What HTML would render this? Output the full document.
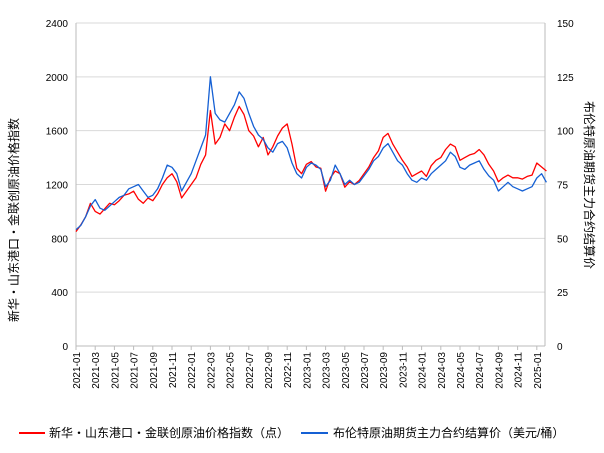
<!DOCTYPE html>
<html><head><meta charset="utf-8"><style>
body{margin:0;background:#fff;}
svg{display:block;font-family:"Liberation Sans","Noto Sans CJK SC",sans-serif;}
</style></head><body>
<svg id="c" width="604" height="453">
<g id="grid"></g>
<g id="yl"></g>
<g id="yr"></g>
<g id="xa"></g>
<g id="series"></g>
<text x="18" y="220" font-size="12" text-anchor="middle" transform="rotate(-90 18 220)">新华・山东港口・金联创原油价格指数</text>
<text x="585" y="185" font-size="12" text-anchor="middle" transform="rotate(90 585 185)">布伦特原油期货主力合约结算价</text>
<g>
<line x1="19" y1="433" x2="45" y2="433" stroke="#ff0000" stroke-width="2"/>
<text x="49" y="437" font-size="12">新华・山东港口・金联创原油价格指数（点）</text>
<line x1="301" y1="433" x2="328" y2="433" stroke="#1560d4" stroke-width="2"/>
<text x="333" y="437" font-size="12">布伦特原油期货主力合约结算价（美元/桶）</text>
</g>
</svg>
<script>
const xTickLabels=["2021-01","2021-03","2021-05","2021-07","2021-09","2021-11","2022-01","2022-03","2022-05","2022-07","2022-09","2022-11","2023-01","2023-03","2023-05","2023-07","2023-09","2023-11","2024-01","2024-03","2024-05","2024-07","2024-09","2024-11","2025-01"];
const leftTicks=[0,400,800,1200,1600,2000,2400];
const rightTicks=[0,25,50,75,100,125,150];
// semi-monthly values starting Jan 2021
const indexValues=[850,900,960,1060,1000,980,1020,1060,1050,1080,1120,1130,1150,1090,1060,1100,1080,1130,1200,1250,1280,1220,1100,1150,1200,1250,1350,1420,1750,1500,1550,1650,1600,1700,1780,1720,1600,1560,1480,1550,1420,1480,1560,1620,1650,1500,1320,1280,1350,1370,1330,1320,1150,1250,1300,1280,1180,1220,1200,1230,1280,1330,1400,1450,1550,1580,1500,1440,1380,1330,1260,1280,1300,1260,1340,1380,1400,1460,1500,1480,1380,1400,1420,1430,1460,1420,1350,1300,1220,1250,1270,1250,1250,1240,1260,1270,1360,1330,1300];
const brentValues=[54,56,60,65,68,64,63,65,67,69,70,73,74,75,72,69,70,73,78,84,83,80,72,76,80,86,92,98,125,108,105,104,108,112,118,115,108,102,98,96,92,90,94,95,92,85,80,78,83,85,84,82,74,77,84,80,75,77,75,76,79,82,86,88,92,94,90,86,84,80,77,76,78,77,80,82,84,86,90,88,83,82,84,85,86,82,79,77,72,74,76,74,73,72,73,74,78,80,76];
const NS="http://www.w3.org/2000/svg";
const X0=76,X1=545,Y0=346,Y1=23,MPX=9.6;
const xm=m=>X0+m*MPX;
const yL=v=>Y0-(v/2400)*(Y0-Y1);
const yR=v=>Y0-(v/150)*(Y0-Y1);
function mk(t,a,p){const e=document.createElementNS(NS,t);for(const k in a)e.setAttribute(k,a[k]);p.appendChild(e);return e;}
const grid=document.getElementById('grid'),yl=document.getElementById('yl'),yr=document.getElementById('yr'),xa=document.getElementById('xa'),ser=document.getElementById('series');
leftTicks.forEach((v,i)=>{
  if(v>0){const g=mk('line',{x1:X0,x2:X1,y1:yL(v),y2:yL(v),stroke:'#d9d9d9'},grid);
  
  }
  const t=mk('text',{x:X0-8,y:yL(v)+4,'font-size':10,'text-anchor':'end'},yl);t.textContent=v;
  
  
});
rightTicks.forEach(v=>{
  const t=mk('text',{x:X1+12,y:yR(v)+4,'font-size':10},yr);t.textContent=v;
  
  
});
mk('line',{x1:X0,x2:X0,y1:Y1,y2:Y0,stroke:'#bbb'},yl);
mk('line',{x1:X1,x2:X1,y1:Y1,y2:Y0,stroke:'#bbb'},yr);
mk('line',{x1:X0,x2:X1,y1:Y0,y2:Y0,stroke:'#bbb'},xa);
xTickLabels.forEach((s,i)=>{
  const x=xm(i*2);
  mk('line',{x1:x,x2:x,y1:Y0,y2:Y0+4,stroke:'#bbb'},xa);
  const t=mk('text',{x:x+4,y:Y0+6,'font-size':10,'text-anchor':'end',transform:`rotate(-90 ${x+4} ${Y0+6})`},xa);t.textContent=s;
  
  
});
function line(vals,fy,col,name){
  const d=vals.map((v,i)=>(i?'L':'M')+xm(i/2).toFixed(1)+','+fy(v).toFixed(1)).join('');
  const p=mk('path',{d:d,fill:'none',stroke:col,'stroke-width':1.3,'stroke-linejoin':'round'},ser);
  
  
}
line(indexValues,yL,'#ff0000','index-line');
line(brentValues,yR,'#1560d4','brent-line');
</script>
</body></html>
